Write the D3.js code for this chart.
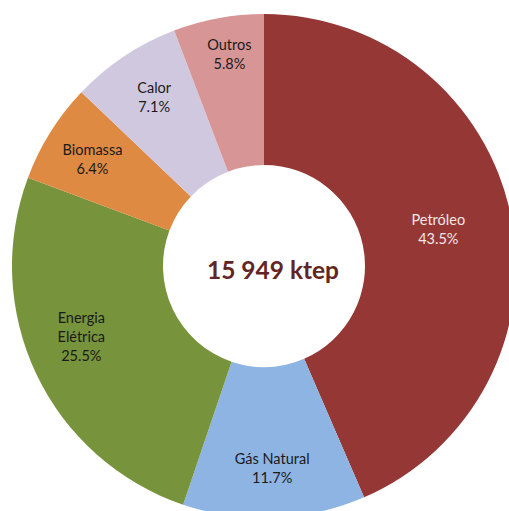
<!DOCTYPE html>
<html>
<head>
<meta charset="utf-8">
<script src="https://cdn.jsdelivr.net/npm/d3@7"></script>
<style>
body{margin:0;background:#fff;}
#canvas{width:509px;height:511px;overflow:hidden;}
</style>
</head>
<body>
<div id="canvas"></div>
<script>
// data
var categories = ["Petróleo","Gás Natural","Energia Elétrica","Biomassa","Calor","Outros"];
var labelLines = [["Petróleo"],["Gás Natural"],["Energia","Elétrica"],["Biomassa"],["Calor"],["Outros"]];
var shares = [43.5, 11.7, 25.5, 6.4, 7.1, 5.8];
var colors = ["#953735","#8eb4e3","#77933c","#de8a42","#d0c8df","#d79695"];
var totalText = "15 949 ktep";

var width = 509, height = 511;
var cx = 264, cy = 266;
var outerR = 252, innerR = 101;

var svg = d3.select("#canvas").append("svg")
	.attr("width", width)
	.attr("height", height);

var g = svg.append("g").attr("transform", "translate(" + cx + "," + cy + ")");

var data = categories.map(function(c, i){
	return {name: c, lines: labelLines[i], value: shares[i], color: colors[i]};
});

var pie = d3.pie().sort(null).value(function(d){ return d.value; });
var arc = d3.arc().innerRadius(innerR).outerRadius(outerR);
var arcs = pie(data);

g.selectAll("path.slice").data(arcs).enter().append("path")
	.attr("class", "slice")
	.attr("d", arc)
	.attr("fill", function(d){ return d.data.color; });

// label radius tweaks (Excel places them a bit differently per slice)
var labelR = function(d){
	if(d.data.name == "Petróleo") return 178;
	if(d.data.name == "Outros") return 213;
	return 200;
};
var nudge = {"Energia Elétrica":[-2,-15], "Outros":[4,-2], "Gás Natural":[0,3], "Calor":[1,-2], "Biomassa":[-2,0]};

var labels = g.selectAll("text.lbl").data(arcs).enter().append("text")
	.attr("class", "lbl")
	.attr("text-anchor", "middle")
	.style("font-family", "Lato, 'Open Sans', sans-serif")
	.style("font-size", "14.5px")
	.attr("fill", function(d){ return d.data.name == "Petróleo" ? "#f2e6e6" : "#1a1a1a"; })
	.attr("transform", function(d){
		var a = (d.startAngle + d.endAngle) / 2;
		var r = labelR(d);
		var n = d.data.lines.length + 1;
		var off = nudge[d.data.name] || [0,0];
		var x = Math.sin(a) * r + off[0];
		var y = -Math.cos(a) * r - (n - 1) * 19 / 2 + off[1];
		return "translate(" + x + "," + y + ")";
	});

labels.each(function(d){
	var t = d3.select(this);
	var lines = d.data.lines.concat([d3.format(".1f")(d.data.value) + "%"]);
	lines.forEach(function(s, i){
		t.append("tspan").attr("x", 0).attr("y", i * 19).attr("dy", "0.35em").text(s);
	});
});

g.append("text")
	.attr("x", 9)
	.attr("y", 4)
	.attr("dy", "0.35em")
	.attr("text-anchor", "middle")
	.style("font-family", "Lato, 'Open Sans', sans-serif")
	.style("font-weight", "bold")
	.style("font-size", "24.5px")
	.attr("fill", "#632523")
	.text(totalText);
</script>
</body>
</html>
